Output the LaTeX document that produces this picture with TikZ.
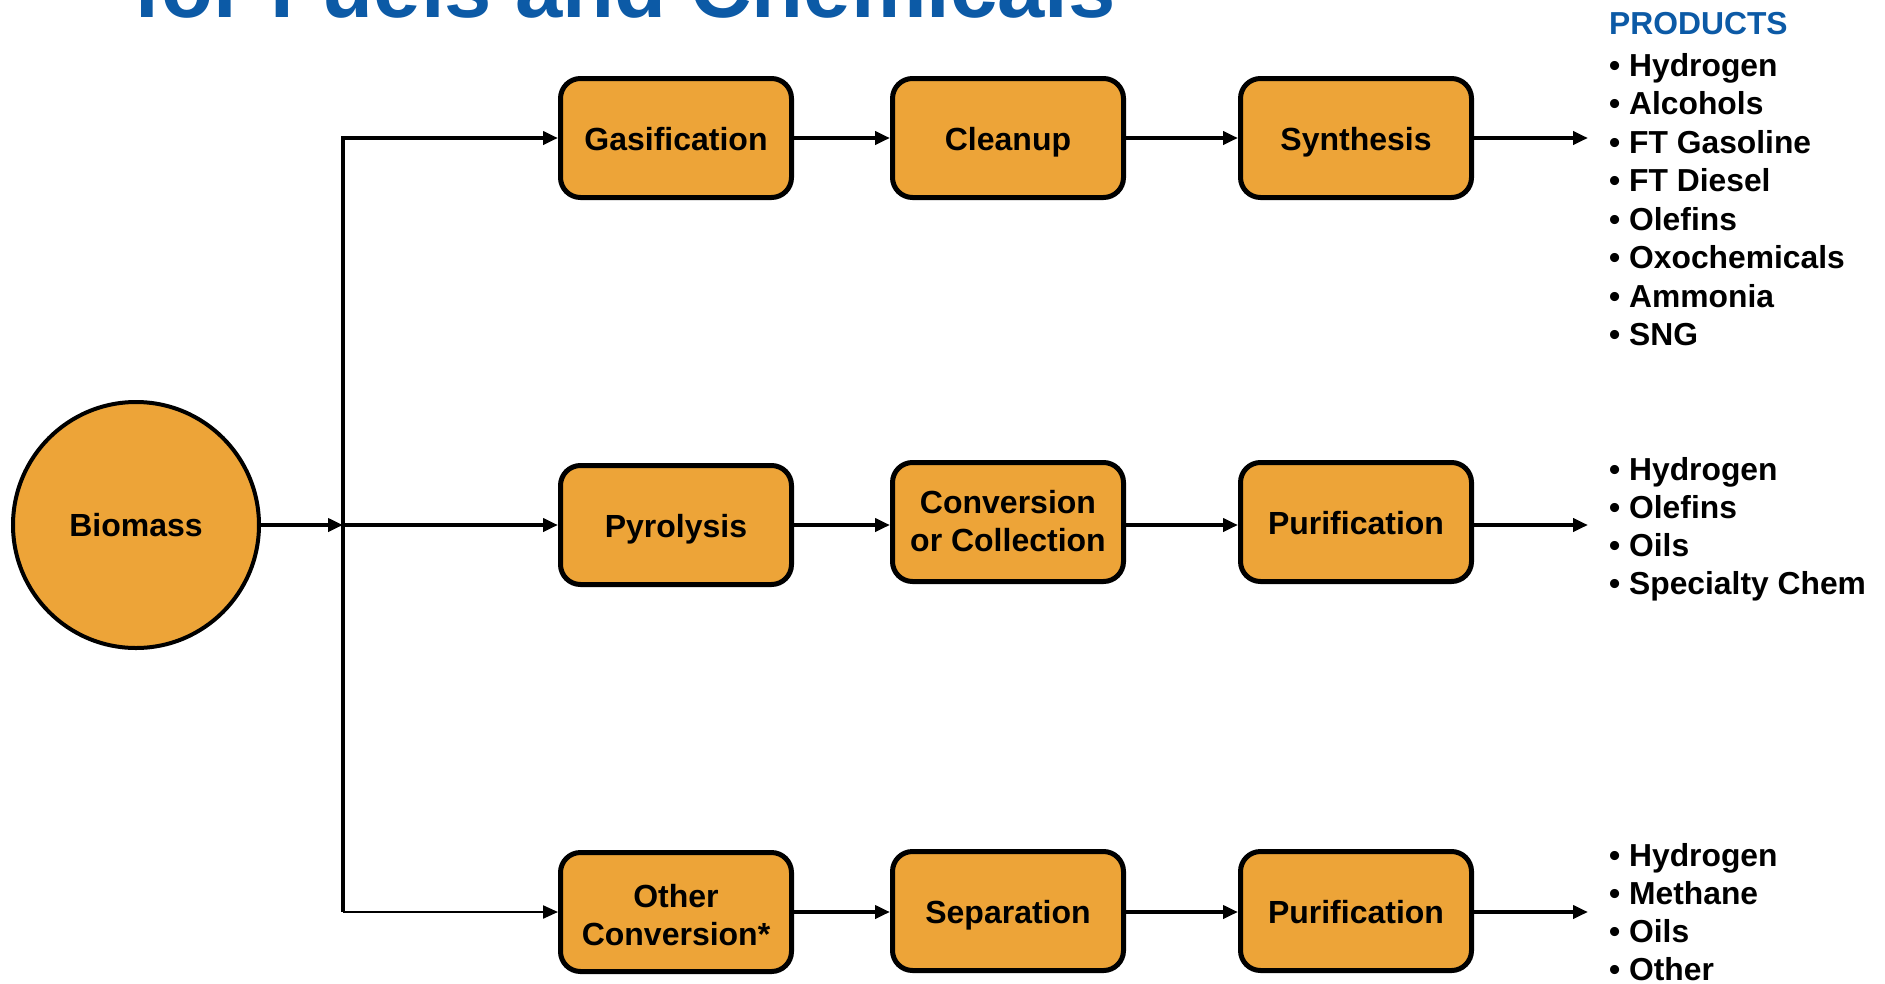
\documentclass[tikz,border=0pt]{standalone}
\usepackage{fontspec}
\setmainfont{Liberation Sans}
\usetikzlibrary{arrows.meta}
\definecolor{boxfill}{RGB}{237,164,56}
\definecolor{titleblue}{RGB}{12,90,166}
\begin{document}
\begin{tikzpicture}[x=1pt,y=-1pt,
  stepbox/.style={draw=black, line width=5pt, fill=boxfill, rounded corners=20pt,
    minimum width=231pt, minimum height=119pt, align=center, inner sep=0pt,
    font=\fontsize{32}{38}\selectfont\bfseries},
  oneline/.style={text height=25pt, text depth=0pt},
  boxtext/.style={align=center, inner sep=0pt, font=\fontsize{32}{38}\selectfont\bfseries},
  flow/.style={line width=4pt, -{Triangle[length=15pt,width=13pt]}},
  thinflow/.style={line width=2.2pt, -{Triangle[length=15pt,width=13pt]}},
  prod/.style={anchor=base west, inner sep=0pt, font=\fontsize{31.8}{38}\selectfont\bfseries},
  ttl/.style={anchor=base west, inner sep=0pt, text=titleblue, font=\fontsize{85}{90}\selectfont\bfseries}
]
\clip (0,0) rectangle (1885,983);
\fill[white] (0,0) rectangle (1885,983);

\node[ttl] (title) at (133,17) {for Fuels and Chemicals};

\node[circle, draw=black, line width=4pt, fill=boxfill, minimum size=246pt, inner sep=0pt,
  text height=23pt, text depth=0pt,
  font=\fontsize{32}{38}\selectfont\bfseries] (bio) at (136,525) {Biomass};

\node[stepbox, oneline] (gas) at (676,138) {Gasification};
\node[stepbox, oneline] (cln) at (1008,138) {Cleanup};
\node[stepbox, oneline] (syn) at (1356,138) {Synthesis};

\node[stepbox, oneline] (pyr) at (676,525) {Pyrolysis};
\node[stepbox] (con) at (1008,522) {};
\node[boxtext] (conl) at (1008,521) {Conversion\\or Collection};
\node[stepbox, oneline] (pu1) at (1356,522) {Purification};

\node[stepbox] (oth) at (676,912) {};
\node[boxtext] (othl) at (676,915) {Other\\Conversion*};
\node[stepbox, oneline] (sep) at (1008,911) {Separation};
\node[stepbox, oneline] (pu2) at (1356,911) {Purification};

\coordinate (j)  at (343,525);
\coordinate (jt) at (343,138);
\coordinate (jb) at (343,912);
\coordinate (o1) at (1588,138);
\coordinate (o2) at (1588,525);
\coordinate (o3) at (1588,912);

\draw[flow] (bio) -- (j);
\draw[line width=4pt] (jb) -- (j);
\draw[flow, line join=miter] (j) -- (jt) -- (gas);
\draw[flow] (j) -- (pyr);
\draw[thinflow] (jb) -- (oth);

\draw[flow] (gas) -- (cln);
\draw[flow] (cln) -- (syn);
\draw[flow] (syn) -- (o1);
\draw[flow] (pyr.east) -- (pyr.east -| con.west);
\draw[flow] (con.east |- pyr.east) -- (pyr.east -| pu1.west);
\draw[flow] (pu1.east |- pyr.east) -- (o2);
\draw[flow] (oth) -- (oth.east -| sep.west);
\draw[flow] (sep.east |- oth.east) -- (oth.east -| pu2.west);
\draw[flow] (pu2.east |- oth.east) -- (o3);

\node[prod, text=titleblue] (ph) at (1609,34) {PRODUCTS};
\foreach \t [count=\i from 0] in {Hydrogen, Alcohols, FT Gasoline, FT Diesel, Olefins, Oxochemicals, Ammonia, SNG}
  \node[prod] (pa\i) at (1609,76+38.5*\i) {• \t};
\foreach \t [count=\i from 0] in {Hydrogen, Olefins, Oils, Specialty Chem}
  \node[prod] (pb\i) at (1609,480+38.2*\i) {• \t};
\foreach \t [count=\i from 0] in {Hydrogen, Methane, Oils, Other}
  \node[prod] (pc\i) at (1609,866+38.2*\i) {• \t};
\end{tikzpicture}
\end{document}
